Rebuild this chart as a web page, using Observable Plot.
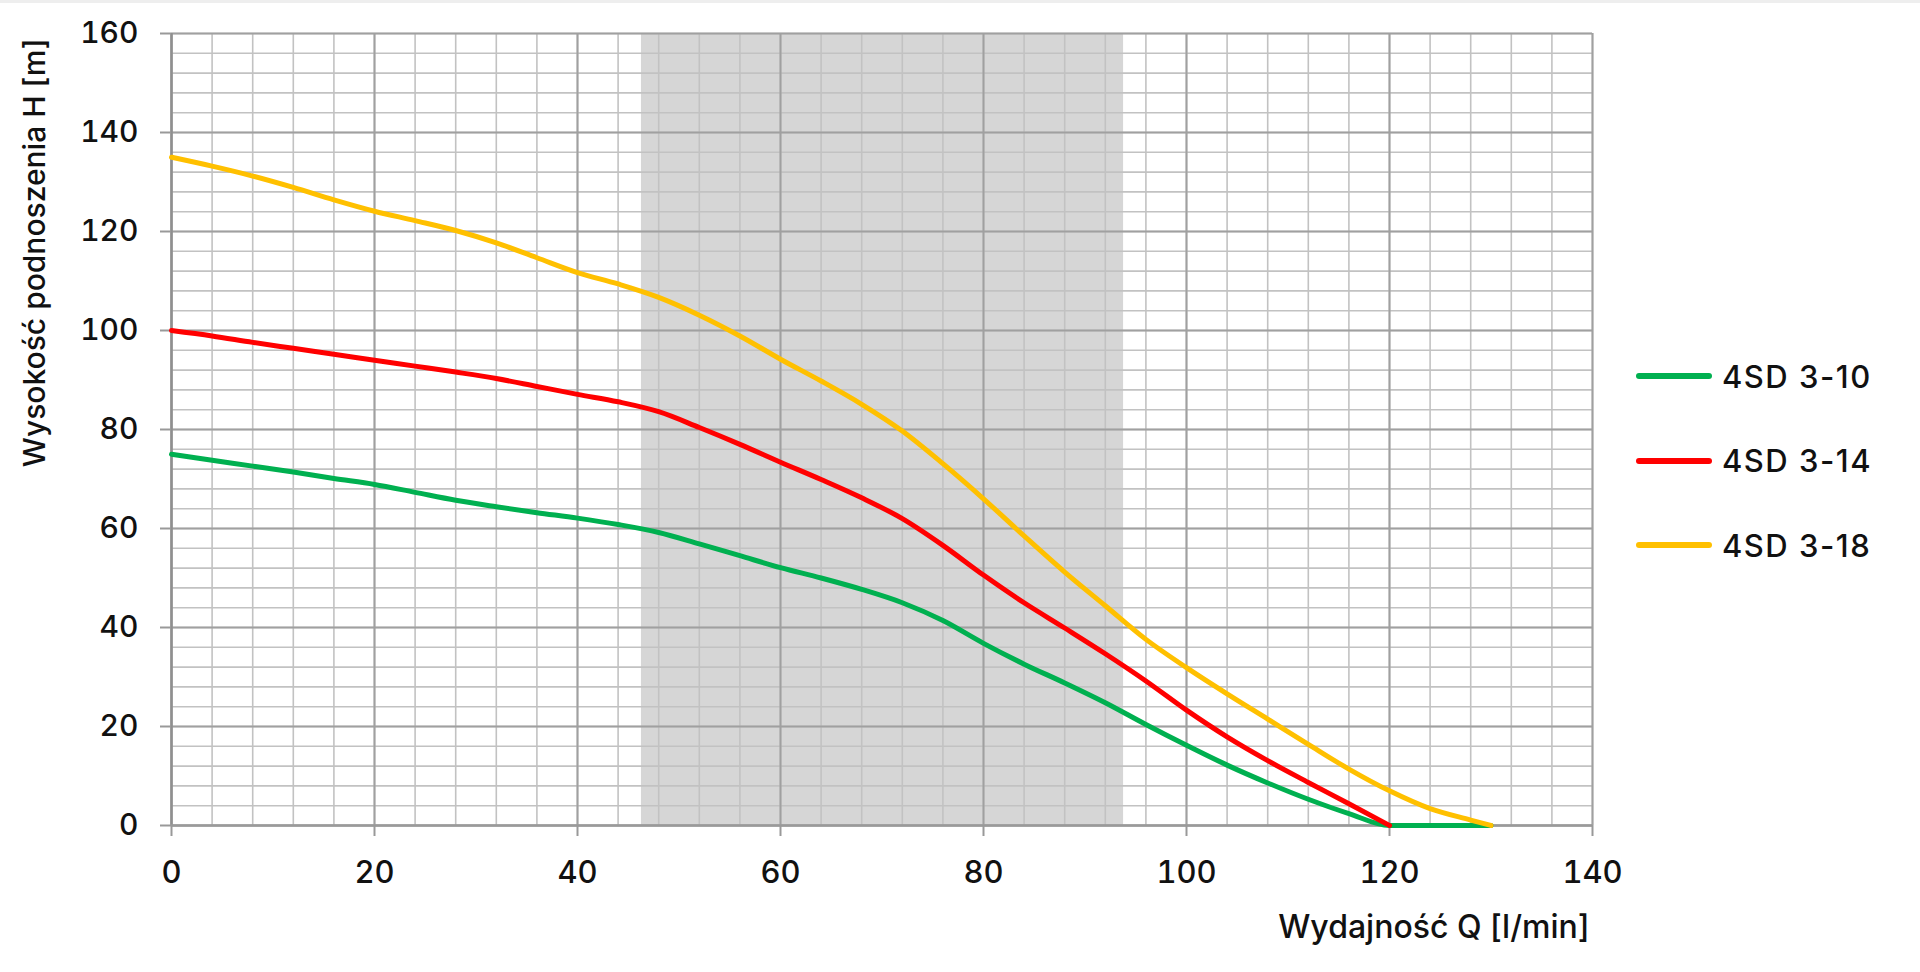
<!DOCTYPE html>
<html>
<head>
<meta charset="utf-8">
<script src="https://cdn.jsdelivr.net/npm/d3@7"></script>
<script src="https://cdn.jsdelivr.net/npm/@observablehq/plot@0.6"></script>
<style>
  html, body { margin: 0; padding: 0; background: #fff; }
  #wrap { position: relative; width: 1920px; height: 972px; overflow: hidden; font-family: Inter, "Noto Sans", sans-serif; }
  #topline { position: absolute; left: 0; top: 0; width: 1920px; height: 3px; background: #eeeeee; }
  #legend { position: absolute; left: 1636px; top: 350px; }
  .item { display: flex; align-items: center; height: 52px; margin-bottom: 32.5px; font-size: 31px; font-weight: 500; letter-spacing: 1.5px; color: #111; }
  .swatch { width: 76px; height: 6px; border-radius: 3px; margin-right: 10px; }
  svg text { font-weight: 500; }
</style>
</head>
<body>
<div id="wrap"><div id="legend"></div><div id="topline"></div></div>
<script>
// Flow values Q [l/min]
const flowQ = [0, 4, 8, 12, 16, 20, 24, 28, 32, 36, 40, 44, 48, 52, 56, 60, 64, 68, 72, 76, 80, 84, 88, 92, 96, 100, 104, 108, 112, 116, 120, 124, 128, 130];
// Head H [m] per pump
const head310 = [75.0, 73.8, 72.6, 71.4, 70.1, 68.9, 67.3, 65.7, 64.4, 63.2, 62.1, 60.8, 59.2, 56.9, 54.5, 52.1, 50.0, 47.7, 45.0, 41.4, 36.8, 32.6, 28.8, 24.8, 20.4, 16.2, 12.2, 8.6, 5.3, 2.4, 0, 0, 0, 0];
const head314 = [100.0, 98.9, 97.6, 96.4, 95.2, 94.0, 92.8, 91.6, 90.3, 88.7, 87.1, 85.6, 83.6, 80.4, 77.0, 73.4, 69.9, 66.2, 62.0, 56.6, 50.6, 45.0, 39.9, 34.7, 29.2, 23.3, 17.9, 13.1, 8.7, 4.4, 0];
const head318 = [135.0, 133.2, 131.2, 128.9, 126.4, 124.1, 122.2, 120.2, 117.7, 114.7, 111.7, 109.4, 106.7, 103.1, 98.9, 94.2, 89.8, 85.1, 79.7, 73.1, 66.0, 58.5, 51.2, 44.4, 37.6, 31.9, 26.6, 21.5, 16.4, 11.4, 7.0, 3.4, 1.1, 0];

const seriesNames = ["4SD 3-10", "4SD 3-14", "4SD 3-18"];
const seriesColors = ["#00b050", "#ff0000", "#ffc000"];
const seriesHeads = [head310, head314, head318];

// Recommended working range (shaded band)
const bandFrom = [46.3];
const bandTo = [93.8];

const xTicks = [0, 20, 40, 60, 80, 100, 120, 140];
const yTicks = [0, 20, 40, 60, 80, 100, 120, 140, 160];
const xMinor = d3.range(0, 141, 4);
const yMinor = d3.range(0, 161, 4);

const xTitle = "Wydajność Q [l/min]";
const yTitle = "Wysokość podnoszenia H [m]";

const rows = [];
seriesHeads.forEach((h, i) => h.forEach((v, j) => rows.push({ series: seriesNames[i], q: flowQ[j], h: v })));
const band = bandFrom.map((f, i) => ({ from: f, to: bandTo[i] }));

const chart = Plot.plot({
  width: 1920,
  height: 972,
  marginLeft: 171,
  marginRight: 328,
  marginTop: 33,
  marginBottom: 147,
  style: { fontFamily: "Inter, 'Noto Sans', sans-serif", color: "#111", background: "transparent" },
  x: { domain: [0, 140] },
  y: { domain: [0, 160] },
  color: { domain: seriesNames, range: seriesColors },
  marks: [
    Plot.rect(band, { x1: "from", x2: "to", y1: 0, y2: 160, fill: "#d6d6d6" }),
    Plot.ruleX(xMinor, { stroke: "#c2c2c2", strokeWidth: 1.6 }),
    Plot.ruleY(yMinor, { stroke: "#c2c2c2", strokeWidth: 1.6 }),
    Plot.ruleX(xTicks, { stroke: "#a0a0a0", strokeWidth: 2 }),
    Plot.ruleY(yTicks, { stroke: "#a0a0a0", strokeWidth: 2 }),
    Plot.ruleX([0], { stroke: "#8f8f8f", strokeWidth: 2.5 }),
    Plot.ruleY([0], { stroke: "#9a9a9a", strokeWidth: 2.5 }),
    Plot.axisX({ ticks: xTicks, tickSize: 11, tickPadding: 24, fontSize: 31, stroke: "#999", strokeWidth: 2, label: null, tickFormat: d => String(d), style: { letterSpacing: "2px" } }),
    Plot.axisY({ ticks: yTicks, tickSize: 11, tickPadding: 22, fontSize: 30, stroke: "#999", strokeWidth: 2, label: null, tickFormat: d => String(d), style: { letterSpacing: "2px" } }),
    Plot.line(rows, { x: "q", y: "h", z: "series", stroke: "series", strokeWidth: 5, curve: "monotone-x", strokeLinecap: "round", strokeLinejoin: "round" }),
    Plot.text([xTitle], { frameAnchor: "bottom-right", text: d => d, textAnchor: "end", lineAnchor: "middle", dx: -3, dy: 102, fontSize: 32, fill: "#111", style: { letterSpacing: "2.6px" } }),
    Plot.text([yTitle], { frameAnchor: "top-left", text: d => d, rotate: -90, textAnchor: "end", lineAnchor: "middle", dx: -136, dy: 5, fontSize: 30, fill: "#111", style: { letterSpacing: "0.6px" } })
  ]
});

const wrap = document.getElementById("wrap");
wrap.insertBefore(chart, wrap.firstChild);

const legend = document.getElementById("legend");
seriesNames.forEach((n, i) => {
  const it = document.createElement("div");
  it.className = "item";
  const sw = document.createElement("div");
  sw.className = "swatch";
  sw.style.background = seriesColors[i];
  const tx = document.createElement("span");
  tx.textContent = n;
  it.appendChild(sw);
  it.appendChild(tx);
  legend.appendChild(it);
});
</script>
</body>
</html>
